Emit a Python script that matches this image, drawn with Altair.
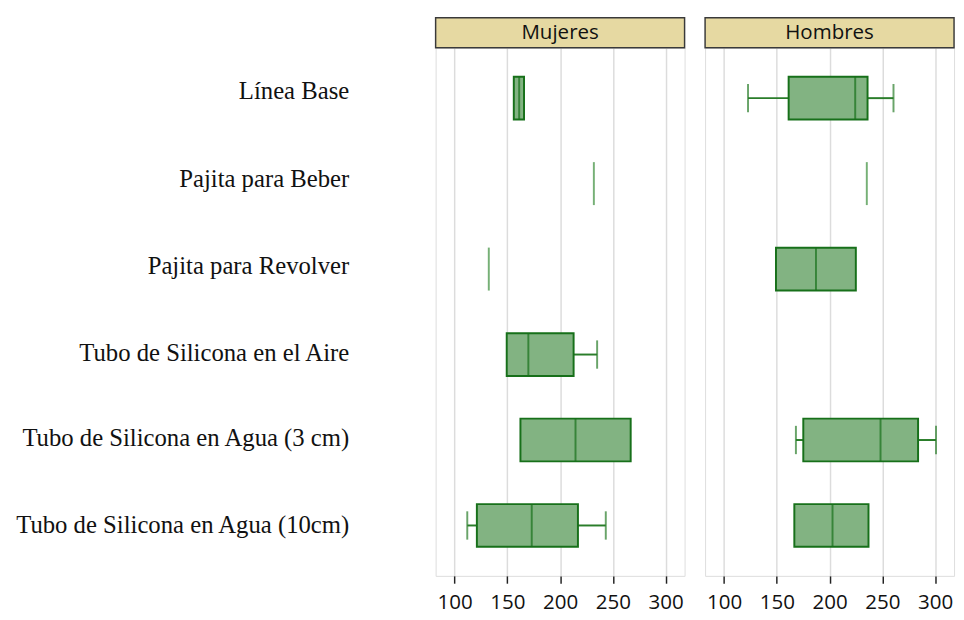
import altair as alt
import pandas as pd

categories = [
    "Línea Base",
    "Pajita para Beber",
    "Pajita para Revolver",
    "Tubo de Silicona en el Aire",
    "Tubo de Silicona en Agua (3 cm)",
    "Tubo de Silicona en Agua (10cm)",
]
panels = ["Mujeres", "Hombres"]

# Mujeres: whisker min, q1, median, q3, whisker max (None = no whisker / no data)
wmin_m = [None, None, None, None, None, 112.0]
q1_m = [156.1, 232.0, 132.4, 149.4, 162.4, 121.1]
med_m = [161.2, 232.0, 132.4, 169.9, 214.6, 173.1]
q3_m = [165.8, 232.0, 132.4, 212.8, 266.9, 216.9]
wmax_m = [None, None, None, 235.1, None, 243.3]

# Hombres
wmin_h = [122.7, None, None, None, 168.1, None]
q1_h = [161.2, 235.3, 149.2, None, 175.1, 166.6]
med_h = [224.3, 235.3, 187.1, None, 248.3, 202.8]
q3_h = [236.0, 235.3, 224.9, None, 283.9, 236.9]
wmax_h = [260.6, None, None, None, 300.9, None]

tick_values = [100, 150, 200, 250, 300]
x_domain = [82, 318]

W, H = 255, 541
HDR = 30.7
FILL = "#82b382"
DARK = "#17701a"
LINE = "#2a7d2a"
SINGLE = "#3c8f3c"


def frame(wmin, q1, med, q3, wmax):
    return pd.DataFrame({
        "cat": categories, "wmin": wmin, "q1": q1, "med": med, "q3": q3, "wmax": wmax,
    })


def panel(name, df, show_labels):
    yscale = alt.Scale(domain=categories, paddingInner=0.5, paddingOuter=0.34)
    if show_labels:
        yaxis = alt.Axis(
            title=None, ticks=False, domain=False, grid=False,
            labelFont="Liberation Serif", labelFontSize=25.3, labelColor="#111",
            labelPadding=89, labelLimit=500,
            labelOffset={
                "condition": [
                    {"test": "datum.value == 'Línea Base'", "value": -7},
                    {"test": "datum.value == 'Pajita para Beber'", "value": -5},
                    {"test": "datum.value == 'Pajita para Revolver'", "value": -3},
                    {"test": "datum.value == 'Tubo de Silicona en el Aire'", "value": -1},
                    {"test": "datum.value == 'Tubo de Silicona en Agua (3 cm)'", "value": -1.5},
                ],
                "value": 0,
            },
            labelExpr="datum.value == 'Línea Base' ? 'Línea Base\u00a0\u00a0' : datum.value",
        )
    else:
        yaxis = None
    y = alt.Y("cat:N", sort=categories, scale=yscale, axis=yaxis)
    xscale = alt.Scale(domain=x_domain, nice=False, zero=False)
    xaxis = alt.Axis(
        values=tick_values, grid=True, gridColor="#dcdcdc", gridWidth=1.5,
        tickColor="#222", tickSize=7.5, tickWidth=1.5, domain=False,
        labelFont="Open Sans", labelFontSize=21, labelColor="#111",
        labelPadding=8.5, title=None,
    )

    base = alt.Chart(df)

    lo_whisk = base.transform_filter("isValid(datum.wmin)").mark_rule(
        color=LINE, strokeWidth=2).encode(
        x=alt.X("wmin:Q", scale=xscale, axis=xaxis), x2="q1:Q", y=y)
    hi_whisk = base.transform_filter("isValid(datum.wmax)").mark_rule(
        color=LINE, strokeWidth=2).encode(
        x=alt.X("q3:Q", scale=xscale, axis=xaxis), x2="wmax:Q", y=y)
    lo_cap = base.transform_filter("isValid(datum.wmin)").mark_tick(
        color=LINE, thickness=2, size=29).encode(
        x=alt.X("wmin:Q", scale=xscale, axis=xaxis), y=y)
    hi_cap = base.transform_filter("isValid(datum.wmax)").mark_tick(
        color=LINE, thickness=2, size=29).encode(
        x=alt.X("wmax:Q", scale=xscale, axis=xaxis), y=y)
    box = base.transform_filter("isValid(datum.q1) && datum.q3 > datum.q1").mark_bar(
        fill=FILL, stroke=DARK, strokeWidth=2).encode(
        x=alt.X("q1:Q", scale=xscale, axis=xaxis), x2="q3:Q", y=y)
    median = base.transform_filter("isValid(datum.q1) && datum.q3 > datum.q1").mark_tick(
        color=DARK, thickness=2, size=44).encode(
        x=alt.X("med:Q", scale=xscale, axis=xaxis), y=y)
    single = base.transform_filter("isValid(datum.q1) && datum.q3 == datum.q1").mark_tick(
        color=SINGLE, thickness=2, size=44).encode(
        x=alt.X("med:Q", scale=xscale, axis=xaxis), y=y)

    hdr_data = pd.DataFrame({"label": [name]})
    header = alt.Chart(hdr_data).mark_rect(
        fill="#e6d9a2", stroke="#3a3a3a", strokeWidth=1.5).encode(
        x=alt.value(0), x2=alt.value(W), y=alt.value(-HDR), y2=alt.value(0))
    header_text = alt.Chart(hdr_data).mark_text(
        font="Open Sans", fontSize=21, color="#111", baseline="middle", align="center").encode(
        x=alt.value(W / 2), y=alt.value(-HDR / 2), text="label:N")

    return alt.layer(
        lo_whisk, hi_whisk, lo_cap, hi_cap, box, median, single, header, header_text
    ).properties(width=W, height=H)


left = panel("Mujeres", frame(wmin_m, q1_m, med_m, q3_m, wmax_m), True)
right = panel("Hombres", frame(wmin_h, q1_h, med_h, q3_h, wmax_h), False)

chart = alt.hconcat(left, right, spacing=17).properties(
    padding={"left": 5, "top": 1.25, "right": 0, "bottom": 0}
).configure_view(stroke="#333333", strokeWidth=1.5).configure(background="white")

chart.save("out.html", embed_options={"renderer": "svg", "actions": False})
